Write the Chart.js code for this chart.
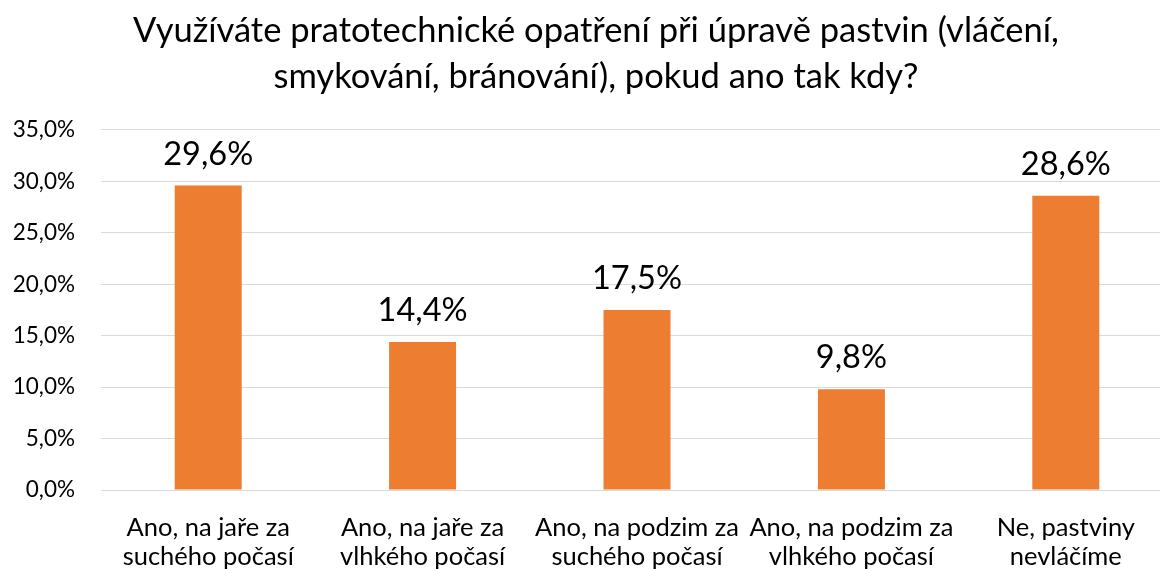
<!DOCTYPE html>
<html>
<head>
<meta charset="utf-8">
<script src="https://cdn.jsdelivr.net/npm/chart.js@4/dist/chart.umd.min.js"></script>
<style>
  html, body { margin: 0; padding: 0; background: #fff; overflow: hidden; width: 1160px; height: 569px; }
  #wrap { position: absolute; left: 0; top: 0; width: 1192px; height: 572px; }
</style>
</head>
<body>
<div id="wrap"><canvas id="c"></canvas></div>
<script>
const titleLines = ["Využíváte pratotechnické opatření při úpravě pastvin (vláčení,", "smykování, bránování), pokud ano tak kdy?"];
const categories = [
  ["Ano, na jaře za", "suchého počasí"],
  ["Ano, na jaře za", "vlhkého počasí"],
  ["Ano, na podzim za", "suchého počasí"],
  ["Ano, na podzim za", "vlhkého počasí"],
  ["Ne, pastviny", "nevláčíme"]
];
const values = [29.6, 14.4, 17.5, 9.8, 28.6];
const yMin = 0, yMax = 35, yStep = 5;

const FONT = "Lato, 'Open Sans', sans-serif";
const fmt = v => v.toFixed(1).replace('.', ',') + '%';

const valueLabels = {
  id: 'valueLabels',
  afterDatasetsDraw(chart) {
    const ctx = chart.ctx;
    const meta = chart.getDatasetMeta(0);
    ctx.save();
    ctx.font = "32.5px " + FONT;
    ctx.fillStyle = '#000000';
    ctx.textAlign = 'center';
    ctx.textBaseline = 'alphabetic';
    meta.data.forEach((bar, i) => {
      ctx.fillText(fmt(values[i]), bar.x, bar.y - 21);
    });
    ctx.restore();
  }
};

// centre the title over the visible page, not the wider canvas
const titleShift = {
  id: 'titleShift',
  afterLayout(chart) {
    const t = chart.titleBlock;
    if (t) { t.left = 19; t.right = 1173; }
  }
};

new Chart(document.getElementById('c'), {
  type: 'bar',
  data: {
    labels: categories,
    datasets: [{
      data: values,
      backgroundColor: '#ED7D31',
      borderWidth: 0,
      barPercentage: 1,
      categoryPercentage: 0.3125
    }]
  },
  options: {
    responsive: true,
    maintainAspectRatio: false,
    animation: false,
    devicePixelRatio: 1,
    layout: { padding: { left: 0, right: 19, top: 0, bottom: 0 } },
    plugins: {
      legend: { display: false },
      tooltip: { enabled: false },
      title: {
        display: true,
        text: titleLines,
        color: '#000000',
        font: { family: FONT, size: 34.5, weight: 'normal', lineHeight: 1.333 },
        padding: { top: 8, bottom: 30 }
      }
    },
    scales: {
      x: {
        grid: { display: false, drawTicks: false },
        border: { display: false },
        ticks: {
          color: '#000000',
          font: { family: FONT, size: 25.5, lineHeight: 1.14 },
          padding: 23,
          maxRotation: 0,
          autoSkip: false
        },
        afterFit(scale) { scale.height = 82; }
      },
      y: {
        min: yMin,
        max: yMax,
        grid: { color: '#d9d9d9', lineWidth: 1, drawTicks: false },
        border: { display: false },
        ticks: {
          stepSize: yStep,
          color: '#000000',
          font: { family: FONT, size: 22.5 },
          padding: 26,
          callback: v => fmt(v)
        },
        afterFit(scale) { scale.width = 101; }
      }
    }
  },
  plugins: [valueLabels, titleShift]
});
</script>
</body>
</html>
